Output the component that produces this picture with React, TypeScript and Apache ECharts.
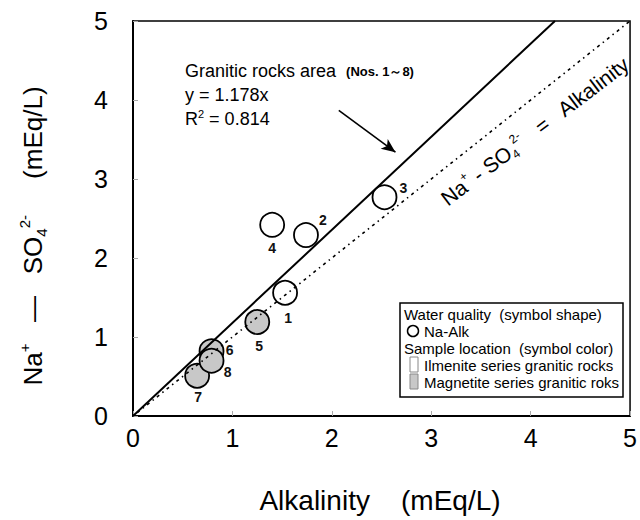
import React, { useEffect, useRef } from 'react';
import * as echarts from 'echarts';

// ---- data ----
const sampleNos = ['1', '2', '3', '4', '5', '6', '7', '8'];
const alkalinity = [1.53, 1.74, 2.53, 1.40, 1.25, 0.79, 0.645, 0.79];
const naMinusSulfate = [1.56, 2.29, 2.77, 2.42, 1.19, 0.82, 0.51, 0.70];
const rockSeries = ['Ilmenite', 'Ilmenite', 'Ilmenite', 'Ilmenite', 'Magnetite', 'Magnetite', 'Magnetite', 'Magnetite'];
const axisMin = 0;
const axisMax = 5;
const tickInterval = 1;
const regressionSlope = 1.178;
const rSquared = '0.814';
const arrowFrom = [2.07, 3.87];
const arrowTo = [2.64, 3.34];

// ---- styles ----
const FONT = "'Liberation Sans', Arial, Helvetica, sans-serif";
const fillBySeries: Record<string, string> = { Ilmenite: '#ffffff', Magnetite: '#c8c8c8' };
const labelOffset: Record<string, [number, number]> = {
  '1': [3, 25], '2': [17, -15], '3': [19, -9], '4': [0, 23],
  '5': [2, 24], '6': [18, -1], '7': [1, 21], '8': [16, 11],
};

export default function App() {
  const ref = useRef<HTMLDivElement>(null);
  useEffect(() => {
    if (!ref.current) return;
    const chart = echarts.init(ref.current, undefined, { renderer: 'svg' });

    const scatterData = sampleNos.map((no, i) => ({
      name: no,
      value: [alkalinity[i], naMinusSulfate[i]],
      itemStyle: { color: fillBySeries[rockSeries[i]] },
      label: { offset: labelOffset[no] },
    }));

    const option: any = {
      animation: false,
      backgroundColor: '#ffffff',
      textStyle: { fontFamily: FONT },
      grid: { left: 133, right: 3, top: 21, bottom: 104, show: true, borderColor: '#000', borderWidth: 1.5, backgroundColor: 'transparent' },
      xAxis: {
        type: 'value', min: axisMin, max: axisMax, interval: tickInterval,
        axisLine: { show: true, lineStyle: { color: '#000', width: 2 } },
        axisTick: { show: true, inside: true, length: 5, lineStyle: { color: '#aaa', width: 1 } },
        axisLabel: { fontSize: 25, color: '#000', fontFamily: FONT, margin: 9 },
        splitLine: { show: false },
      },
      yAxis: {
        type: 'value', min: axisMin, max: axisMax, interval: tickInterval,
        axisLine: { show: true, lineStyle: { color: '#000', width: 2 } },
        axisTick: { show: true, inside: true, length: 5, lineStyle: { color: '#aaa', width: 1 } },
        axisLabel: { fontSize: 25, color: '#000', fontFamily: FONT, margin: 25 },
        splitLine: { show: false },
      },
      series: [
        {
          type: 'scatter',
          z: 2,
          symbol: 'circle',
          symbolSize: 24,
          itemStyle: { borderColor: '#000', borderWidth: 1.8, opacity: 1 },
          label: {
            show: true, formatter: '{b}', position: 'inside',
            fontSize: 14, fontWeight: 'bold', color: '#111', fontFamily: FONT,
          },
          data: scatterData,
        },
        {
          type: 'line',
          z: 3,
          symbol: 'none',
          clip: true,
          lineStyle: { color: '#000', width: 2 },
          data: [[0, 0], [axisMax / regressionSlope, axisMax]],
          markLine: {
            silent: true,
            symbol: ['none', 'arrow'],
            symbolSize: [9, 14],
            lineStyle: { color: '#000', width: 1.6, type: 'solid' },
            label: { show: false },
            data: [[{ coord: arrowFrom }, { coord: arrowTo }]],
          },
        },
        {
          type: 'line',
          z: 3,
          symbol: 'none',
          lineStyle: { color: '#000', width: 1.6, type: [1.5, 4, 3, 4] },
          data: [[axisMin, axisMin], [axisMax, axisMax]],
        },
      ],
      graphic: [
        // Y axis title
        {
          type: 'text', x: 33, y: 236, rotation: Math.PI / 2,
          style: {
            text: '{m|Na}{sup|+}{m|   —   SO}{sub|4}{sup|2-}{m|     (mEq/L)}',
            align: 'center', verticalAlign: 'middle', fill: '#000',
            rich: {
              m: { fontSize: 26, fontFamily: FONT, lineHeight: 32, fill: '#000' },
              sup: { fontSize: 15, fontFamily: FONT, verticalAlign: 'top', lineHeight: 16, fill: '#000' },
              sub: { fontSize: 15, fontFamily: FONT, verticalAlign: 'bottom', lineHeight: 16, fill: '#000' },
            },
          },
        },
        // X axis title
        {
          type: 'text', x: 380, y: 500,
          style: { text: 'Alkalinity    (mEq/L)', fontSize: 28, fontFamily: FONT, fill: '#000', align: 'center', verticalAlign: 'middle' },
        },
        // Regression annotation
        {
          type: 'text', x: 185, y: 71,
          style: {
            text: '{a|Granitic rocks area  }{b|(Nos. 1～8)}',
            align: 'left', verticalAlign: 'middle',
            rich: {
              a: { fontSize: 18, fontFamily: FONT, fill: '#000' },
              b: { fontSize: 13, fontFamily: FONT, fontWeight: 'bold', fill: '#000' },
            },
          },
        },
        {
          type: 'text', x: 185, y: 95,
          style: { text: 'y = ' + regressionSlope.toFixed(3) + 'x', fontSize: 18, fontFamily: FONT, fill: '#000', align: 'left', verticalAlign: 'middle' },
        },
        {
          type: 'text', x: 185, y: 119,
          style: {
            text: '{a|R}{s|2}{a| = ' + rSquared + '}',
            align: 'left', verticalAlign: 'middle',
            rich: {
              a: { fontSize: 18, fontFamily: FONT, fill: '#000', lineHeight: 21 },
              s: { fontSize: 11, fontFamily: FONT, fill: '#000', verticalAlign: 'top', lineHeight: 11 },
            },
          },
        },
        // 1:1 line label
        {
          type: 'text', x: 535, y: 131, rotation: 0.65,
          style: {
            text: '{m|Na}{sup|+}{m| - SO}{sub|4}{sup|2-}{m|   =   Alkalinity}',
            align: 'center', verticalAlign: 'middle',
            rich: {
              m: { fontSize: 21, fontFamily: FONT, fill: '#000', lineHeight: 26 },
              sup: { fontSize: 12, fontFamily: FONT, fill: '#000', verticalAlign: 'top', lineHeight: 13 },
              sub: { fontSize: 12, fontFamily: FONT, fill: '#000', verticalAlign: 'bottom', lineHeight: 13 },
            },
          },
        },
        // Legend box
        {
          type: 'rect', shape: { x: 400, y: 303, width: 223, height: 94 },
          style: { fill: '#fff', stroke: '#000', lineWidth: 1.5 }, z: 10,
        },
        {
          type: 'text', x: 404, y: 314, z: 11,
          style: { text: 'Water quality  (symbol shape)', fontSize: 15, fontFamily: FONT, fill: '#000', verticalAlign: 'middle' },
        },
        {
          type: 'circle', shape: { cx: 413, cy: 331, r: 5.5 }, z: 11,
          style: { fill: '#fff', stroke: '#000', lineWidth: 1.5 },
        },
        {
          type: 'text', x: 424, y: 331, z: 11,
          style: { text: 'Na-Alk', fontSize: 15, fontFamily: FONT, fill: '#000', verticalAlign: 'middle' },
        },
        {
          type: 'text', x: 404, y: 348, z: 11,
          style: { text: 'Sample location  (symbol color)', fontSize: 15, fontFamily: FONT, fill: '#000', verticalAlign: 'middle' },
        },
        {
          type: 'rect', shape: { x: 410, y: 357, width: 8, height: 15 }, z: 11,
          style: { fill: fillBySeries.Ilmenite, stroke: '#888', lineWidth: 1 },
        },
        {
          type: 'rect', shape: { x: 410, y: 374, width: 8, height: 15 }, z: 11,
          style: { fill: fillBySeries.Magnetite, stroke: '#888', lineWidth: 1 },
        },
        {
          type: 'text', x: 424, y: 365, z: 11,
          style: { text: 'Ilmenite series granitic rocks', fontSize: 15, fontFamily: FONT, fill: '#000', verticalAlign: 'middle' },
        },
        {
          type: 'text', x: 424, y: 382, z: 11,
          style: { text: 'Magnetite series granitic roks', fontSize: 15, fontFamily: FONT, fill: '#000', verticalAlign: 'middle' },
        },
      ],
    };

    chart.setOption(option);
    return () => chart.dispose();
  }, []);

  return <div ref={ref} style={{ width: 640, height: 520, position: 'absolute', left: 0, top: 0 }} />;
}
